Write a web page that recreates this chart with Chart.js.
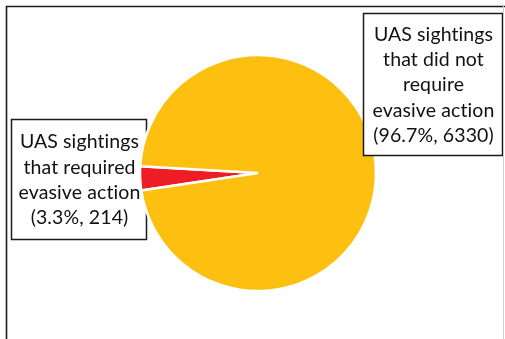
<!DOCTYPE html>
<html>
<head>
<meta charset="utf-8">
<script src="https://cdn.jsdelivr.net/npm/chart.js@4"></script>
<style>
    html, body { margin: 0; padding: 0; background: #fff; }
    #wrap { width: 505px; height: 339px; position: relative; }
</style>
</head>
<body>
<div id="wrap"><canvas id="pieChart" width="505" height="339"></canvas></div>
<script>
// sightings split by whether evasive action was needed
const categories = ["required", "not required"];
const counts = [214, 6330];
const percents = [3.3, 96.7];
const labelLines = [
    ["UAS sightings", "that required", "evasive action"],
    ["UAS sightings", "that did not", "require", "evasive action"],
];
const sliceColors = ["#ee1c25", "#fdc010"];

// callout boxes: left one sits under the pie, right one on top with white fill
const boxes = [
    { x: 11, y: 119, w: 135, h: 120, fill: null, under: true },
    { x: 363, y: 13, w: 139, h: 142, fill: "#ffffff", under: false },
];

const FONT = "19.5px Lato, 'Open Sans', sans-serif";
const LINE_H = 25.3;

const drawBox = (ctx, box) => {
    ctx.save();
    if (box.fill) {
        ctx.fillStyle = box.fill;
        ctx.fillRect(box.x, box.y, box.w, box.h);
    }
    ctx.strokeStyle = "#1a1a1a";
    ctx.lineWidth = 1.5;
    ctx.strokeRect(box.x + 0.5, box.y + 0.5, box.w, box.h);
    ctx.restore();
};

const drawBoxText = (ctx, box, i) => {
    const lines = labelLines[i].concat([`(${percents[i]}%, ${counts[i]})`]);
    const cx = box.x + box.w / 2 + 1;
    const cy = box.y + box.h / 2 + 1;
    const top = cy - (lines.length - 1) * LINE_H / 2;
    ctx.save();
    ctx.fillStyle = "#111";
    ctx.font = FONT;
    ctx.letterSpacing = "0.1px"; // keeps "ti" from turning into a ligature
    ctx.textAlign = "center";
    ctx.textBaseline = "middle";
    lines.forEach((line, k) => ctx.fillText(line, cx, top + k * LINE_H));
    ctx.restore();
};

const calloutPlugin = {
    id: "callouts",
    beforeDatasetsDraw(chart) {
        const ctx = chart.ctx;
        boxes.forEach((box) => { if (box.under) drawBox(ctx, box); });
    },
    afterDraw(chart) {
        const ctx = chart.ctx;
        boxes.forEach((box, i) => {
            if (!box.under) drawBox(ctx, box);
            drawBoxText(ctx, box, i);
        });
        // frame lines
        ctx.save();
        ctx.strokeStyle = "#1c1c1c";
        ctx.lineWidth = 1.6;
        ctx.beginPath();
        ctx.moveTo(6.5, 339);
        ctx.lineTo(6.5, 6.5);
        ctx.lineTo(505, 6.5);
        ctx.stroke();
        ctx.strokeStyle = "#cfcfcf";
        ctx.lineWidth = 1;
        ctx.beginPath();
        ctx.moveTo(503.5, 6);
        ctx.lineTo(503.5, 339);
        ctx.stroke();
        ctx.restore();
    },
};

const ctx = document.getElementById("pieChart").getContext("2d");
const myChart = new Chart(ctx, {
    type: "pie",
    data: {
        labels: categories,
        datasets: [
            {
                data: counts,
                backgroundColor: sliceColors,
                borderColor: "#ffffff",
                borderWidth: 2.5,
                hoverOffset: 0,
            },
        ],
    },
    options: {
        responsive: false,
        animation: false,
        rotation: 261.5,
        radius: 118,
        layout: {
            padding: { left: 140, right: 129, top: 55, bottom: 48 },
        },
        plugins: {
            legend: { display: false },
            tooltip: { enabled: false },
        },
    },
    plugins: [calloutPlugin],
});
</script>
</body>
</html>
